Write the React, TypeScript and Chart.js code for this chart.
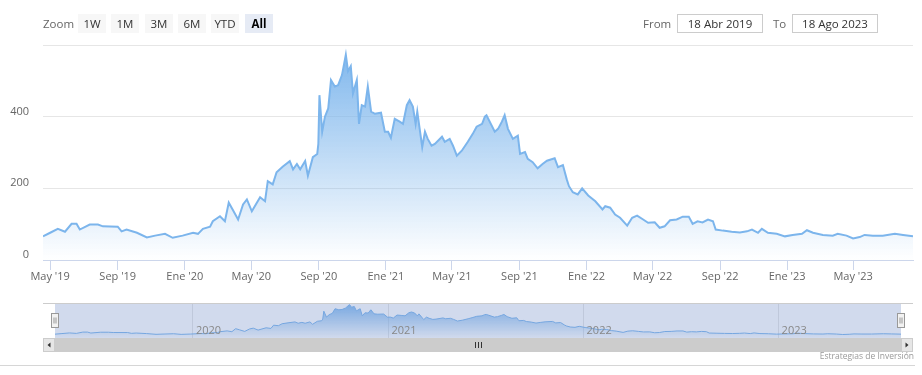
import React, { useEffect, useRef } from "react";
import { Chart, registerables } from "chart.js";

Chart.register(...registerables);

// ---------- data ----------
const dates = [
  "2019-04-18","2019-05-01","2019-05-15","2019-05-28","2019-06-09","2019-06-18","2019-06-24","2019-07-12",
  "2019-07-27","2019-08-05","2019-09-01","2019-09-08","2019-09-17","2019-10-06","2019-10-24","2019-11-08",
  "2019-11-26","2019-12-10","2019-12-28","2020-01-16","2020-01-25","2020-02-03","2020-02-16","2020-02-21",
  "2020-03-05","2020-03-14","2020-03-21","2020-03-28","2020-04-07","2020-04-16","2020-04-23","2020-05-02",
  "2020-05-17","2020-05-26","2020-05-31","2020-06-09","2020-06-16","2020-06-27","2020-07-10","2020-07-16",
  "2020-07-23","2020-07-29","2020-08-07","2020-08-12","2020-08-21","2020-08-29","2020-08-31","2020-09-02",
  "2020-09-07","2020-09-12","2020-09-18","2020-09-23","2020-09-30","2020-10-06","2020-10-13","2020-10-20",
  "2020-10-24","2020-10-29","2020-11-02","2020-11-09","2020-11-13","2020-11-18","2020-11-24","2020-11-29",
  "2020-12-05","2020-12-12","2020-12-23","2020-12-30","2021-01-05","2021-01-10","2021-01-17","2021-01-26",
  "2021-02-01","2021-02-08","2021-02-13","2021-02-19","2021-02-24","2021-02-27","2021-03-08","2021-03-13",
  "2021-03-18","2021-03-25","2021-03-31","2021-04-13","2021-04-18","2021-04-27","2021-05-03","2021-05-10",
  "2021-05-19","2021-05-30","2021-06-08","2021-06-15","2021-06-25","2021-06-30","2021-07-03","2021-07-18",
  "2021-07-24","2021-07-31","2021-08-05","2021-08-11","2021-08-20","2021-08-29","2021-09-02","2021-09-11",
  "2021-09-16","2021-09-25","2021-10-04","2021-10-13","2021-10-21","2021-11-04","2021-11-10","2021-11-19",
  "2021-11-26","2021-11-30","2021-12-07","2021-12-16","2021-12-24","2022-01-04","2022-01-17","2022-01-30",
  "2022-02-04","2022-02-13","2022-02-22","2022-03-03","2022-03-16","2022-03-25","2022-04-03","2022-04-14",
  "2022-04-23","2022-05-05","2022-05-14","2022-05-23","2022-06-02","2022-06-14","2022-06-25","2022-07-06",
  "2022-07-13","2022-07-22","2022-07-31","2022-08-10","2022-08-19","2022-08-24","2022-09-06","2022-09-22",
  "2022-10-07","2022-10-20","2022-10-29","2022-11-09","2022-11-16","2022-11-27","2022-12-13","2022-12-28",
  "2023-01-11","2023-01-28","2023-02-06","2023-02-17","2023-03-07","2023-03-25","2023-04-03","2023-04-19",
  "2023-05-01","2023-05-13","2023-05-22","2023-06-06","2023-06-24","2023-07-16","2023-07-31","2023-08-18",
];
const values = [
  66, 76, 87, 79, 101, 101, 85, 99,
  99, 94, 93, 80, 85, 76, 63, 68,
  73, 62, 68, 76, 73, 87, 93, 108,
  122, 108, 160, 141, 113, 155, 169, 136,
  175, 164, 220, 211, 245, 260, 276, 253,
  268, 253, 276, 235, 287, 296, 324, 460,
  358, 400, 423, 502, 484, 488, 516, 573,
  527, 541, 465, 502, 380, 432, 428, 484,
  414, 408, 411, 358, 358, 341, 394, 386,
  380, 432, 446, 428, 380, 414, 315, 358,
  338, 319, 324, 344, 330, 338, 319, 291,
  305, 330, 352, 372, 380, 400, 404, 358,
  366, 386, 404, 366, 338, 347, 296, 301,
  282, 273, 256, 268, 277, 284, 259, 265,
  225, 206, 189, 183, 200, 180, 164, 141,
  150, 146, 127, 118, 96, 118, 124, 113,
  104, 105, 90, 94, 111, 113, 121, 121,
  101, 108, 105, 113, 108, 85, 82, 79,
  77, 80, 85, 76, 87, 76, 73, 66,
  70, 73, 83, 76, 70, 68, 73, 68,
  60, 64, 70, 68, 68, 73, 70, 66,
];
const rangeStart = "2019-04-18";
const rangeEnd = "2023-08-18";
const xTickDates = [
  "2019-05-01","2019-09-01","2020-01-01","2020-05-01","2020-09-01","2021-01-01","2021-05-01",
  "2021-09-01","2022-01-01","2022-05-01","2022-09-01","2023-01-01","2023-05-01",
];
const xTickLabels = [
  "May '19","Sep '19","Ene '20","May '20","Sep '20","Ene '21","May '21",
  "Sep '21","Ene '22","May '22","Sep '22","Ene '23","May '23",
];
const yTicks = [0, 200, 400, 600];
const yTickLabels = ["0", "200", "400", ""];
const navYearDates = ["2020-01-01", "2021-01-01", "2022-01-01", "2023-01-01"];
const navYearLabels = ["2020", "2021", "2022", "2023"];
const zoomButtons = ["1W", "1M", "3M", "6M", "YTD", "All"];
const selectedButton = "All";
const fromLabel = "From";
const toLabel = "To";
const fromDate = "18 Abr 2019";
const toDate = "18 Ago 2023";
const creditText = "Estrategias de Inversión";

const FONT = '"Open Sans", "DejaVu Sans", sans-serif';

function makePoints() {
  return dates.map((d, i) => ({ x: Date.parse(d), y: values[i] }));
}

function areaGradient(ctx: any) {
  const chart = ctx.chart;
  const ca = chart.chartArea;
  if (!ca) return "rgba(124,181,236,0.4)";
  const g = chart.ctx.createLinearGradient(0, ca.top, 0, ca.bottom);
  g.addColorStop(0, "rgba(124,181,236,1)");
  g.addColorStop(1, "rgba(124,181,236,0)");
  return g;
}

const navPlugin = {
  id: "navDecor",
  afterDatasetsDraw(chart: any) {
    const { ctx, chartArea: ca, scales } = chart;
    ctx.save();
    ctx.fillStyle = "rgba(102,133,194,0.3)";
    ctx.fillRect(ca.left, ca.top, ca.right - ca.left, ca.bottom - ca.top);
    ctx.fillStyle = "#888";
    ctx.font = `11px ${FONT}`;
    ctx.textBaseline = "middle";
    ctx.textAlign = "left";
    navYearDates.forEach((d, i) => {
      const x = scales.x.getPixelForValue(Date.parse(d));
      ctx.fillText(navYearLabels[i], x + 3, ca.bottom - 7);
    });
    ctx.restore();
  },
  afterDraw(chart: any) {
    const { ctx, chartArea: ca } = chart;
    ctx.save();
    // outline
    ctx.strokeStyle = "#cccccc";
    ctx.lineWidth = 1;
    ctx.beginPath();
    ctx.moveTo(43, ca.top + 0.5);
    ctx.lineTo(913, ca.top + 0.5);
    ctx.stroke();
    // handles
    const handle = (cx: number) => {
      const hx = Math.round(cx) - 3.5;
      const hy = ca.top + 10.5;
      ctx.fillStyle = "#f2f2f2";
      ctx.fillRect(hx, hy, 7, 14);
      ctx.strokeStyle = "#999999";
      ctx.strokeRect(hx, hy, 7, 14);
      ctx.beginPath();
      ctx.moveTo(hx + 2.5 - 0.5 + 0.5, hy + 4);
      ctx.lineTo(hx + 2.5, hy + 10);
      ctx.moveTo(hx + 4.5, hy + 4);
      ctx.lineTo(hx + 4.5, hy + 10);
      ctx.stroke();
    };
    handle(ca.left);
    handle(ca.right);
    // scrollbar
    const sy = ca.bottom;
    const sh = 14;
    ctx.fillStyle = "#cccccc";
    ctx.fillRect(55, sy, 846, sh);
    ctx.fillStyle = "#e6e6e6";
    ctx.fillRect(43, sy, 12, sh);
    ctx.fillRect(901, sy, 12, sh);
    ctx.strokeStyle = "#cccccc";
    ctx.strokeRect(43.5, sy + 0.5, 11, sh - 1);
    ctx.strokeRect(901.5, sy + 0.5, 11, sh - 1);
    ctx.fillStyle = "#333333";
    ctx.beginPath();
    ctx.moveTo(47.5, sy + 7);
    ctx.lineTo(50.5, sy + 4.5);
    ctx.lineTo(50.5, sy + 9.5);
    ctx.closePath();
    ctx.fill();
    ctx.beginPath();
    ctx.moveTo(908.5, sy + 7);
    ctx.lineTo(905.5, sy + 4.5);
    ctx.lineTo(905.5, sy + 9.5);
    ctx.closePath();
    ctx.fill();
    ctx.strokeStyle = "#333333";
    ctx.beginPath();
    [-3, 0, 3].forEach((o) => {
      ctx.moveTo(478.5 + o, sy + 4);
      ctx.lineTo(478.5 + o, sy + 10);
    });
    ctx.stroke();
    ctx.restore();
  },
};

export default function App() {
  const mainRef = useRef<HTMLCanvasElement>(null);
  const navRef = useRef<HTMLCanvasElement>(null);

  useEffect(() => {
    const xmin = Date.parse(rangeStart);
    const xmax = Date.parse(rangeEnd);
    const tickFont = { family: FONT, size: 11 };

    const main = new Chart(mainRef.current!, {
      type: "line",
      data: {
        datasets: [
          {
            data: makePoints(),
            borderColor: "#7cb5ec",
            borderWidth: 2,
            pointRadius: 0,
            fill: "origin",
            backgroundColor: areaGradient,
            tension: 0,
          } as any,
        ],
      },
      options: {
        responsive: false,
        animation: false,
        devicePixelRatio: 1,
        layout: { padding: { top: 45, left: 0, right: 9, bottom: 0 } },
        plugins: { legend: { display: false }, tooltip: { enabled: false } },
        scales: {
          x: {
            type: "linear",
            min: xmin,
            max: xmax,
            afterBuildTicks: (s: any) => {
              s.ticks = xTickDates.map((d) => ({ value: Date.parse(d) }));
            },
            afterFit: (s: any) => {
              s.height = 30;
            },
            grid: { drawOnChartArea: false, drawTicks: true, tickLength: 10, color: "#ccd6eb" },
            border: { display: true, color: "#ccd6eb", width: 1 },
            ticks: {
              autoSkip: false,
              maxRotation: 0,
              padding: 0,
              color: "#666666",
              font: tickFont,
              callback: (_v: any, i: number) => xTickLabels[i],
            },
          },
          y: {
            min: 0,
            max: 600,
            afterBuildTicks: (s: any) => {
              s.ticks = yTicks.map((v) => ({ value: v }));
            },
            afterFit: (s: any) => {
              s.width = 43;
            },
            grid: { color: "#e6e6e6", drawTicks: false },
            border: { display: false },
            ticks: {
              padding: 14,
              labelOffset: -5,
              color: "#666666",
              font: tickFont,
              callback: (_v: any, i: number) => yTickLabels[i],
            },
          },
        },
      } as any,
    });

    const nav = new Chart(navRef.current!, {
      type: "line",
      data: {
        datasets: [
          {
            data: makePoints(),
            borderColor: "#7cb5ec",
            borderWidth: 1,
            pointRadius: 0,
            fill: "origin",
            backgroundColor: areaGradient,
            tension: 0,
          } as any,
        ],
      },
      options: {
        responsive: false,
        animation: false,
        devicePixelRatio: 1,
        layout: { padding: { top: 3, left: 55, right: 21, bottom: 22 } },
        plugins: { legend: { display: false }, tooltip: { enabled: false } },
        scales: {
          x: {
            type: "linear",
            min: xmin,
            max: xmax,
            afterBuildTicks: (s: any) => {
              s.ticks = navYearDates.map((d) => ({ value: Date.parse(d) }));
            },
            afterFit: (s: any) => {
              s.height = 0;
            },
            grid: { color: "#e6e6e6", drawTicks: false },
            border: { display: false },
            ticks: { display: false },
          },
          y: { display: false, min: 0, max: 600 },
        },
      } as any,
      plugins: [navPlugin],
    });

    return () => {
      main.destroy();
      nav.destroy();
    };
  }, []);

  const btnBase: React.CSSProperties = {
    position: "absolute",
    top: 14,
    width: 28,
    height: 19,
    lineHeight: "19px",
    textAlign: "center",
    fontSize: 11.5,
    color: "#333333",
    background: "#f7f7f7",
  };
  const inputBox: React.CSSProperties = {
    position: "absolute",
    top: 14,
    height: 17,
    lineHeight: "17px",
    border: "1px solid #cccccc",
    textAlign: "center",
    fontSize: 11.5,
    color: "#333333",
    background: "#fff",
  };
  const label: React.CSSProperties = {
    position: "absolute",
    top: 14,
    height: 19,
    lineHeight: "19px",
    fontSize: 11.5,
    color: "#666666",
  };

  return (
    <div
      style={{
        position: "absolute",
        left: 0,
        top: 0,
        width: 922,
        height: 375,
        background: "#ffffff",
        fontFamily: FONT,
        overflow: "hidden",
      }}
    >
      <canvas
        ref={mainRef}
        width={922}
        height={290}
        style={{ position: "absolute", left: 0, top: 0, width: 922, height: 290 }}
      />
      <canvas
        ref={navRef}
        width={922}
        height={60}
        style={{ position: "absolute", left: 0, top: 300, width: 922, height: 60 }}
      />
      <div style={{ ...label, left: 43 }}>Zoom</div>
      {zoomButtons.map((b, i) => (
        <div
          key={b}
          style={{
            ...btnBase,
            left: 78 + Math.round(i * 33.3),
            ...(b === selectedButton
              ? { background: "#e6ebf5", fontWeight: 700, color: "#000000" }
              : {}),
          }}
        >
          {b}
        </div>
      ))}
      <div style={{ ...label, left: 643 }}>{fromLabel}</div>
      <div style={{ ...inputBox, left: 677, width: 84 }}>{fromDate}</div>
      <div style={{ ...label, left: 773 }}>{toLabel}</div>
      <div style={{ ...inputBox, left: 792, width: 84 }}>{toDate}</div>
      <div
        style={{
          position: "absolute",
          right: 922 - 914,
          top: 350,
          fontSize: 8.5,
          color: "#999999",
          whiteSpace: "nowrap",
        }}
      >
        {creditText}
      </div>
      <div
        style={{ position: "absolute", left: 0, top: 365, width: 915, height: 1, background: "#d6d6d6" }}
      />
    </div>
  );
}
